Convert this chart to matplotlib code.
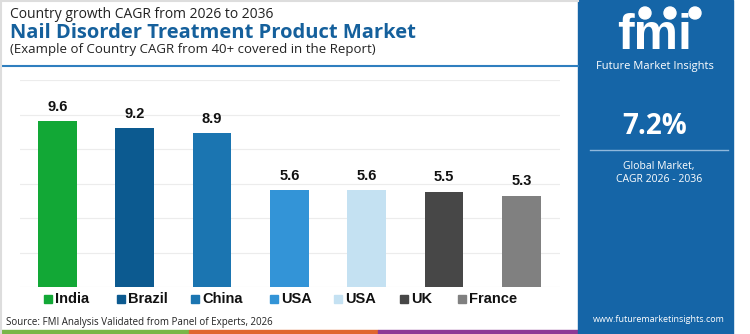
import matplotlib.pyplot as plt
from matplotlib.patches import Rectangle, Ellipse
from matplotlib.lines import Line2D

# chart data
countries = ['India', 'Brazil', 'China', 'USA', 'USA', 'UK', 'France']
cagr = [9.6, 9.2, 8.9, 5.6, 5.6, 5.5, 5.3]
colors = ['#12a836', '#0c5a90', '#1b75b1', '#3394d7', '#c4e1f2', '#474747', '#808080']
yticks = [0, 2, 4, 6, 8, 10, 12]
global_cagr = '7.2%'

W, H = 750, 334
fig = plt.figure(figsize=(7.5, 3.34), dpi=100)
fig.patch.set_facecolor('white')

def fx(px):
    return px / W

def fy(py):
    return 1 - py / H

# main axes
ax = fig.add_axes([fx(20), fy(287), fx(540), (287 - 80) / H])
x = list(range(len(countries)))
bars = ax.bar(x, cagr, width=0.5, color=colors, zorder=3)
ax.set_ylim(0, 12)
ax.set_xlim(-0.485, 6.5)
ax.set_yticks(yticks)
ax.grid(axis='y', color='#ececec', linewidth=0.8, zorder=0)
ax.tick_params(left=False, bottom=False, labelleft=False, labelbottom=False)
for s in ax.spines.values():
    s.set_visible(False)
for b, v in zip(bars, cagr):
    ax.text(b.get_x() + b.get_width() / 2, v + 0.45, f'{v:.1f}', ha='center', va='bottom',
            fontsize=10.5, fontweight='bold', family='Liberation Sans', color='#111111')

# header
fig.text(fx(10), fy(15), 'Country growth CAGR from 2026 to 2036', fontsize=10,
         family='Open Sans', color='#222222', va='center')
fig.text(fx(10), fy(33), 'Nail Disorder Treatment Product Market', fontsize=14.5,
         family='Open Sans', fontweight='bold', color='#15609c', va='center')
fig.text(fx(10), fy(50), '(Example of Country CAGR from 40+ covered in the Report)', fontsize=9.5,
         family='Open Sans', color='#222222', va='center')
fig.add_artist(Line2D([fx(2), fx(578)], [fy(66), fy(66)], color='#2f7fbf', lw=1.5))

# legend
leg_x = [44, 117, 191, 270, 334, 400, 458]
for lx, name, c in zip(leg_x, countries, colors):
    fig.add_artist(Rectangle((fx(lx), fy(303)), fx(8), 8 / H, color=c))
    fig.text(fx(lx + 11), fy(299), name, fontsize=10.5, fontweight='bold',
             family='Liberation Sans', color='#111111', va='center')

fig.text(fx(6), fy(322), 'Source: FMI Analysis Validated from Panel of Experts, 2026', fontsize=7,
         family='Open Sans', color='#222222', va='center')

# bottom strip
for x0, x1, c in [(0, 189, '#7ab648'), (189, 378, '#e0662f'), (378, 578, '#8e3a96')]:
    fig.add_artist(Rectangle((fx(x0), 0), fx(x1 - x0), 4 / H, color=c))

# outer light border
fig.add_artist(Line2D([fx(1), fx(1)], [0, 1], color='#dddddd', lw=1.5))
fig.add_artist(Line2D([0, fx(578)], [fy(1), fy(1)], color='#dddddd', lw=1.5))

# right panel
panel = '#1565a7'
fig.add_artist(Rectangle((fx(578), 0), fx(155), 1, color=panel))
fig.text(fx(655), fy(36), 'fmi', fontsize=36, fontweight='bold', family='Liberation Sans',
         color='white', ha='center', va='center')
for sy in range(20, 56, 4):
    fig.add_artist(Line2D([fx(598), fx(715)], [fy(sy), fy(sy)], color=panel, lw=0.8))
for cx in [645, 670, 695]:
    fig.add_artist(Ellipse((fx(cx), fy(13)), fx(12), 12 / H, color='white'))
fig.text(fx(655), fy(66), 'Future Market Insights', fontsize=8, family='Open Sans',
         color='white', ha='center', va='center')
fig.text(fx(655), fy(127), global_cagr, fontsize=20, fontweight='bold', family='Open Sans',
         color='white', ha='center', va='center')
fig.add_artist(Line2D([fx(590), fx(728)], [fy(150), fy(150)], color='#8fb8dc', lw=1))
fig.text(fx(659), fy(166), 'Global Market,', fontsize=7.5, family='Open Sans',
         color='white', ha='center', va='center')
fig.text(fx(659), fy(180), 'CAGR 2026 - 2036', fontsize=7.5, family='Open Sans',
         color='white', ha='center', va='center')
fig.text(fx(659), fy(319), 'www.futuremarketinsights.com', fontsize=6.5, family='Open Sans',
         color='white', ha='center', va='center')

fig.savefig('out.png', dpi=100)
